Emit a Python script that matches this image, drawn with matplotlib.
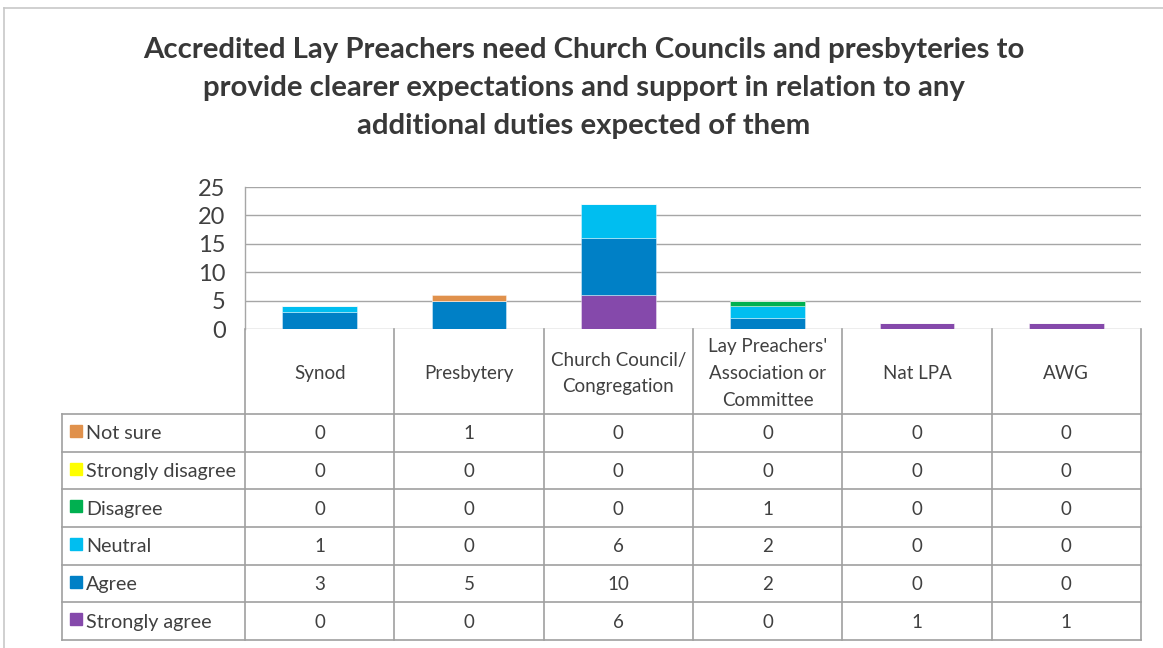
import matplotlib
matplotlib.use("Agg")
import matplotlib.pyplot as plt
import numpy as np

plt.rcParams['font.family'] = ['Lato', 'DejaVu Sans']

title = ("Accredited Lay Preachers need Church Councils and presbyteries to\n"
         "provide clearer expectations and support in relation to any\n"
         "additional duties expected of them")

categories = ["Synod", "Presbytery", "Church Council/\nCongregation",
              "Lay Preachers'\nAssociation or\nCommittee", "Nat LPA", "AWG"]

# table order (top to bottom)
series_names = ["Not sure", "Strongly disagree", "Disagree", "Neutral", "Agree", "Strongly agree"]
not_sure          = [0, 1, 0, 0, 0, 0]
strongly_disagree = [0, 0, 0, 0, 0, 0]
disagree          = [0, 0, 0, 1, 0, 0]
neutral           = [1, 0, 6, 2, 0, 0]
agree             = [3, 5, 10, 2, 0, 0]
strongly_agree    = [0, 0, 6, 0, 1, 1]
series_values = [not_sure, strongly_disagree, disagree, neutral, agree, strongly_agree]
series_colors = ["#E0914C", "#FFFF00", "#00B050", "#00BEF0", "#0080C6", "#8549AB"]

y_ticks = [0, 5, 10, 15, 20, 25]

W, H = 1163, 648
fig = plt.figure(figsize=(W / 100, H / 100), dpi=100)

TXT = "#404040"
GRID = "#A6A6A6"

# pixel geometry
L, R, T, B = 245, 1141, 187, 329
ax = fig.add_axes([L / W, 1 - B / H, (R - L) / W, (B - T) / H])
n = len(categories)
x = np.arange(n)
bottom = np.zeros(n)
for name, vals, col in reversed(list(zip(series_names, series_values, series_colors))):
    vals = np.array(vals, dtype=float)
    ax.bar(x, vals, width=0.5, bottom=bottom, color=col,
           edgecolor=(1, 1, 1, 0.45), linewidth=0.6, zorder=3)
    bottom += vals
ax.set_xlim(-0.5, n - 0.5)
ax.set_ylim(0, 25)
ax.set_yticks(y_ticks)
ax.set_yticklabels([str(t) for t in y_ticks], fontsize=17, color=TXT)
ax.tick_params(axis='y', length=0, pad=14)
ax.set_xticks([])
ax.yaxis.grid(True, color=GRID, linewidth=1.0, zorder=0)
for s in ["top", "right", "bottom"]:
    ax.spines[s].set_visible(False)
ax.spines["left"].set_color(GRID)
ax.spines["left"].set_linewidth(1.0)

# overlay in pixel coords
ov = fig.add_axes([0, 0, 1, 1])
ov.set_xlim(0, W)
ov.set_ylim(H, 0)
ov.axis("off")

# outer chart border (top and left)
ov.plot([4, W], [8, 8], color="#C8C8C8", linewidth=1.2)
ov.plot([4, 4], [8, H], color="#C8C8C8", linewidth=1.2)

# title
ov.text(584, 88, title, ha="center", va="center", fontsize=21.2, fontweight="bold",
        color="#383838", linespacing=1.55)

# table
col_w = (R - L) / n
col_x = [L + i * col_w for i in range(n + 1)]
hdr_top, hdr_bot = B, 414
row_h = (640 - hdr_bot) / len(series_names)
row_y = [hdr_bot + i * row_h for i in range(len(series_names) + 1)]
LEFT = 62
lc = "#A0A0A0"
lw = 1.2

# header vertical lines
for cx in col_x:
    ov.plot([cx, cx], [hdr_top, row_y[-1]], color=lc, linewidth=lw)
ov.plot([LEFT, LEFT], [hdr_bot, row_y[-1]], color=lc, linewidth=lw)
# horizontal lines
for ry in row_y:
    ov.plot([LEFT, R], [ry, ry], color=lc, linewidth=lw)

for i, c in enumerate(categories):
    ov.text((col_x[i] + col_x[i + 1]) / 2, (hdr_top + hdr_bot) / 2 + 2, c,
            ha="center", va="center", fontsize=13.5, color=TXT, linespacing=1.68)

for r, (name, vals, col) in enumerate(zip(series_names, series_values, series_colors)):
    cy = (row_y[r] + row_y[r + 1]) / 2
    ov.add_patch(plt.Rectangle((70, cy - 8), 12, 12, color=col))
    ov.text(86, cy + 1, name, ha="left", va="center", fontsize=14.2, color=TXT)
    for i, v in enumerate(vals):
        ov.text((col_x[i] + col_x[i + 1]) / 2, cy + 1, str(v), ha="center", va="center",
                fontsize=13.5, color=TXT)

fig.savefig("out.png", dpi=100, facecolor="white")
